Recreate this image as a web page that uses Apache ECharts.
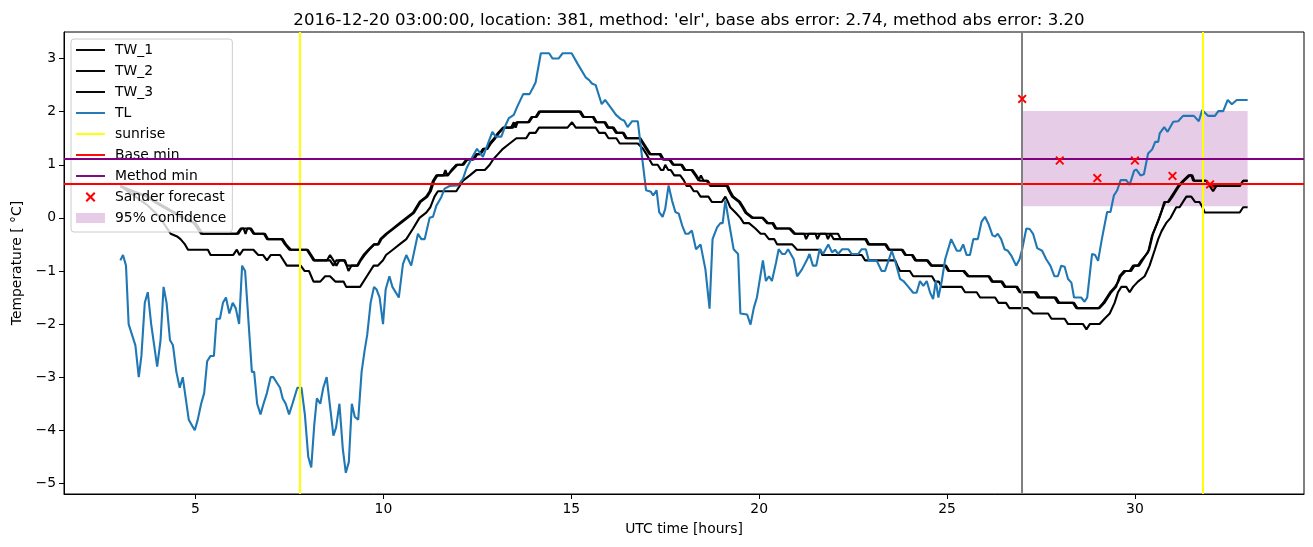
<!DOCTYPE html>
<html><head><meta charset="utf-8">
<script src="https://cdn.jsdelivr.net/npm/echarts@6/dist/echarts.min.js"></script>
<style>html,body{margin:0;padding:0;background:#fff}#c{width:1313px;height:547px}</style>
</head><body><div id="c"></div>
<script>
const titleText = "2016-12-20 03:00:00, location: 381, method: 'elr', base abs error: 2.74, method abs error: 3.20";
const xTicks = [5, 10, 15, 20, 25, 30];
const yTicks = [-5, -4, -3, -2, -1, 0, 1, 2, 3];

const TW_1 = [[3.0,0.6],[3.3,0.5],[3.7,0.4],[3.9,0.3],[4.15,0.2],[4.4,0.1],[4.65,0.0],[4.95,-0.1],[5.05,-0.2],[5.15,-0.3],[6.14,-0.3],[6.23,-0.2],[6.45,-0.2],[6.54,-0.3],[6.82,-0.3],[6.9,-0.4],[7.29,-0.4],[7.38,-0.5],[7.5,-0.6],[7.96,-0.6],[8.05,-0.7],[8.14,-0.8],[8.58,-0.8],[8.67,-0.9],[8.75,-0.8],[8.95,-0.8],[9.03,-0.9],[9.3,-0.9],[9.38,-0.8],[9.47,-0.7],[9.6,-0.6],[9.74,-0.5],[9.85,-0.5],[9.92,-0.4],[10.07,-0.3],[10.25,-0.2],[10.43,-0.1],[10.61,0.0],[10.79,0.1],[10.96,0.3],[11.14,0.4],[11.23,0.5],[11.32,0.7],[11.41,0.8],[11.72,0.8],[11.81,0.9],[11.94,1.0],[12.1,1.0],[12.21,1.1],[12.38,1.1],[12.47,1.2],[12.56,1.2],[12.65,1.3],[12.74,1.3],[12.83,1.4],[12.95,1.5],[13.05,1.6],[13.18,1.7],[13.45,1.7],[13.54,1.8],[13.85,1.8],[13.94,1.9],[14.05,1.9],[14.14,2.0],[15.25,2.0],[15.34,1.9],[15.57,1.9],[15.65,1.8],[15.88,1.8],[15.96,1.7],[16.1,1.7],[16.19,1.6],[16.37,1.6],[16.45,1.5],[16.81,1.5],[16.9,1.4],[16.99,1.3],[17.08,1.2],[17.35,1.2],[17.43,1.1],[17.6,1.1],[17.7,1.0],[17.92,1.0],[18.01,0.9],[18.2,0.9],[18.3,0.8],[18.39,0.7],[18.45,0.8],[18.52,0.7],[18.6,0.7],[18.7,0.6],[19.14,0.6],[19.2,0.5],[19.28,0.4],[19.46,0.3],[19.55,0.2],[19.63,0.1],[19.81,0.0],[20.08,0.0],[20.21,-0.1],[20.35,-0.1],[20.43,-0.2],[20.8,-0.2],[20.93,-0.3],[21.9,-0.3],[21.98,-0.4],[22.82,-0.4],[22.9,-0.5],[23.35,-0.5],[23.44,-0.6],[23.79,-0.6],[23.88,-0.7],[24.06,-0.7],[24.15,-0.8],[24.46,-0.8],[24.57,-0.9],[24.95,-0.9],[25.03,-1.0],[25.43,-1.0],[25.55,-1.1],[26.1,-1.1],[26.19,-1.2],[26.44,-1.2],[26.53,-1.3],[26.84,-1.3],[26.93,-1.4],[27.33,-1.4],[27.42,-1.5],[27.86,-1.5],[27.95,-1.6],[28.35,-1.6],[28.44,-1.7],[29.06,-1.7],[29.19,-1.6],[29.28,-1.5],[29.37,-1.4],[29.5,-1.3],[29.59,-1.1],[29.71,-1.0],[29.86,-1.0],[29.95,-0.9],[30.08,-0.9],[30.17,-0.8],[30.35,-0.65],[30.45,-0.35],[30.62,-0.05],[30.72,0.15],[30.78,0.3],[30.88,0.3],[30.97,0.4],[31.06,0.5],[31.15,0.6],[31.28,0.7],[31.43,0.8],[31.5,0.8],[31.55,0.7],[31.9,0.7],[31.99,0.6],[32.79,0.6],[32.88,0.7],[33.0,0.7]];

const TW_2 = [[3.0,0.6],[3.35,0.5],[3.75,0.4],[3.95,0.3],[4.2,0.2],[4.45,0.1],[4.7,0.0],[5.0,-0.1],[5.1,-0.2],[5.18,-0.3],[6.1,-0.3],[6.2,-0.2],[6.28,-0.2],[6.33,-0.3],[6.38,-0.2],[6.48,-0.2],[6.57,-0.3],[6.85,-0.3],[6.93,-0.4],[7.32,-0.4],[7.41,-0.5],[7.54,-0.6],[7.99,-0.6],[8.08,-0.7],[8.17,-0.8],[8.5,-0.8],[8.58,-0.7],[8.67,-0.8],[8.75,-0.9],[8.83,-0.8],[8.98,-0.8],[9.07,-1.0],[9.15,-0.9],[9.32,-0.9],[9.4,-0.8],[9.5,-0.7],[9.62,-0.6],[9.76,-0.5],[9.87,-0.5],[9.95,-0.4],[10.1,-0.3],[10.28,-0.2],[10.46,-0.1],[10.64,0.0],[10.82,0.1],[10.99,0.3],[11.17,0.4],[11.26,0.5],[11.35,0.7],[11.44,0.8],[11.6,0.8],[11.65,0.9],[11.7,0.8],[11.75,0.8],[11.84,0.9],[11.97,1.0],[12.13,1.0],[12.24,1.1],[12.41,1.1],[12.5,1.2],[12.59,1.2],[12.68,1.3],[12.77,1.3],[12.86,1.4],[12.98,1.5],[13.08,1.6],[13.21,1.7],[13.4,1.7],[13.47,1.8],[13.52,1.7],[13.57,1.8],[13.88,1.8],[13.97,1.9],[14.08,1.9],[14.17,2.0],[15.22,2.0],[15.31,1.9],[15.6,1.9],[15.68,1.8],[15.91,1.8],[15.99,1.7],[16.13,1.7],[16.22,1.6],[16.4,1.6],[16.48,1.5],[16.84,1.5],[16.93,1.4],[17.02,1.3],[17.11,1.2],[17.38,1.2],[17.46,1.1],[17.63,1.1],[17.73,1.0],[17.95,1.0],[18.04,0.9],[18.23,0.9],[18.33,0.8],[18.42,0.7],[18.63,0.7],[18.73,0.6],[19.17,0.6],[19.23,0.5],[19.31,0.4],[19.49,0.3],[19.58,0.2],[19.66,0.1],[19.84,0.0],[20.11,0.0],[20.24,-0.1],[20.38,-0.1],[20.46,-0.2],[20.83,-0.2],[20.96,-0.3],[21.2,-0.3],[21.25,-0.4],[21.32,-0.3],[21.5,-0.3],[21.55,-0.4],[21.62,-0.3],[21.78,-0.3],[21.83,-0.4],[21.9,-0.3],[22.1,-0.3],[22.17,-0.4],[22.85,-0.4],[22.93,-0.5],[23.38,-0.5],[23.47,-0.6],[23.82,-0.6],[23.91,-0.7],[24.09,-0.7],[24.18,-0.8],[24.49,-0.8],[24.6,-0.9],[24.98,-0.9],[25.06,-1.0],[25.46,-1.0],[25.58,-1.1],[26.13,-1.1],[26.22,-1.2],[26.47,-1.2],[26.56,-1.3],[26.87,-1.3],[26.96,-1.4],[27.38,-1.4],[27.47,-1.5],[27.9,-1.5],[27.99,-1.6],[28.38,-1.6],[28.47,-1.7],[29.03,-1.7],[29.16,-1.6],[29.25,-1.5],[29.34,-1.4],[29.47,-1.3],[29.56,-1.2],[29.62,-1.1],[29.75,-1.0],[29.9,-1.0],[29.99,-0.9],[30.11,-0.9],[30.2,-0.8],[30.38,-0.6],[30.48,-0.3],[30.65,0.0],[30.75,0.2],[30.81,0.3],[30.9,0.3],[31.0,0.4],[31.09,0.5],[31.18,0.6],[31.31,0.7],[31.46,0.8],[31.53,0.8],[31.58,0.7],[31.9,0.7],[31.99,0.6],[32.08,0.5],[32.17,0.6],[32.79,0.6],[32.88,0.7],[33.0,0.7]];

const TW_3 = [[3.0,0.6],[3.4,0.4],[3.7,0.25],[4.0,0.05],[4.2,-0.15],[4.34,-0.3],[4.51,-0.35],[4.6,-0.4],[4.72,-0.5],[4.8,-0.6],[5.33,-0.6],[5.4,-0.7],[6.0,-0.7],[6.1,-0.6],[6.17,-0.7],[6.27,-0.6],[6.54,-0.6],[6.67,-0.7],[6.8,-0.7],[6.9,-0.8],[7.0,-0.7],[7.25,-0.7],[7.43,-0.9],[7.8,-0.9],[7.9,-1.0],[8.02,-1.0],[8.14,-1.2],[8.32,-1.2],[8.45,-1.1],[8.58,-1.1],[8.72,-1.2],[8.94,-1.2],[9.01,-1.3],[9.38,-1.3],[9.56,-1.1],[9.74,-0.9],[9.85,-0.9],[9.99,-0.8],[10.07,-0.7],[10.25,-0.6],[10.43,-0.5],[10.61,-0.4],[10.79,-0.2],[10.96,0.0],[11.14,0.1],[11.25,0.2],[11.36,0.4],[11.45,0.5],[11.94,0.5],[12.03,0.6],[12.12,0.7],[12.3,0.8],[12.47,0.9],[12.7,0.9],[12.83,1.0],[12.92,1.1],[13.05,1.2],[13.18,1.3],[13.36,1.4],[13.54,1.5],[13.8,1.5],[13.89,1.6],[14.05,1.6],[14.14,1.7],[14.9,1.7],[15.02,1.8],[15.12,1.7],[15.65,1.7],[15.74,1.6],[15.9,1.6],[15.99,1.5],[16.2,1.5],[16.29,1.4],[16.77,1.4],[16.91,1.3],[17.0,1.2],[17.08,1.1],[17.16,1.0],[17.3,1.0],[17.39,0.9],[17.45,0.9],[17.5,1.0],[17.58,0.9],[17.65,0.9],[17.74,0.8],[17.9,0.8],[18.0,0.7],[18.07,0.6],[18.17,0.6],[18.26,0.5],[18.35,0.5],[18.44,0.4],[18.65,0.4],[18.74,0.3],[19.01,0.3],[19.1,0.4],[19.17,0.3],[19.23,0.2],[19.37,0.1],[19.5,0.0],[19.59,-0.1],[19.73,-0.1],[19.9,-0.2],[20.04,-0.3],[20.15,-0.3],[20.26,-0.4],[20.4,-0.4],[20.48,-0.5],[20.88,-0.5],[21.01,-0.6],[21.63,-0.6],[21.68,-0.7],[22.73,-0.7],[22.82,-0.8],[23.62,-0.8],[23.68,-0.9],[23.75,-1.0],[24.01,-1.0],[24.1,-1.1],[24.6,-1.1],[24.68,-1.2],[24.78,-1.2],[24.86,-1.3],[25.39,-1.3],[25.48,-1.4],[25.79,-1.4],[25.88,-1.5],[26.28,-1.5],[26.37,-1.6],[26.57,-1.6],[26.66,-1.7],[27.15,-1.7],[27.29,-1.8],[27.69,-1.8],[27.78,-1.9],[28.13,-1.9],[28.22,-2.0],[28.62,-2.0],[28.71,-2.1],[28.8,-2.0],[29.06,-2.0],[29.19,-1.9],[29.33,-1.8],[29.46,-1.6],[29.55,-1.4],[29.64,-1.3],[29.77,-1.3],[29.86,-1.4],[29.95,-1.3],[30.08,-1.2],[30.26,-1.1],[30.39,-0.9],[30.53,-0.6],[30.62,-0.4],[30.71,-0.25],[30.83,-0.1],[30.95,0.0],[31.1,0.2],[31.19,0.2],[31.28,0.3],[31.37,0.4],[31.5,0.4],[31.6,0.3],[31.72,0.3],[31.8,0.2],[31.86,0.1],[32.79,0.1],[32.88,0.2],[33.0,0.2]];

const TL = [[3.0,-0.8],[3.07,-0.7],[3.15,-0.9],[3.22,-2.0],[3.4,-2.4],[3.49,-3.0],[3.56,-2.6],[3.65,-1.6],[3.73,-1.4],[3.82,-2.0],[3.98,-2.8],[4.07,-2.3],[4.15,-1.3],[4.23,-1.6],[4.32,-2.3],[4.4,-2.4],[4.49,-2.9],[4.58,-3.2],[4.66,-3.0],[4.82,-3.8],[4.98,-4.0],[5.06,-3.8],[5.15,-3.5],[5.23,-3.3],[5.31,-2.7],[5.4,-2.6],[5.49,-2.6],[5.56,-1.9],[5.65,-1.9],[5.73,-1.6],[5.81,-1.5],[5.9,-1.8],[5.99,-1.6],[6.07,-1.7],[6.16,-2.0],[6.24,-0.9],[6.32,-1.0],[6.5,-2.9],[6.56,-2.9],[6.64,-3.5],[6.73,-3.7],[6.81,-3.5],[6.9,-3.3],[7.0,-3.0],[7.07,-3.0],[7.16,-3.1],[7.25,-3.2],[7.32,-3.4],[7.4,-3.5],[7.49,-3.7],[7.58,-3.5],[7.71,-3.2],[7.82,-3.2],[7.91,-3.7],[8.0,-4.5],[8.08,-4.7],[8.16,-3.9],[8.23,-3.4],[8.32,-3.5],[8.4,-3.2],[8.49,-3.0],[8.58,-3.55],[8.67,-4.1],[8.74,-3.95],[8.83,-3.5],[8.92,-4.35],[9.0,-4.8],[9.08,-4.6],[9.16,-3.5],[9.24,-3.75],[9.33,-3.8],[9.42,-2.9],[9.5,-2.5],[9.57,-2.2],[9.66,-1.6],[9.75,-1.3],[9.82,-1.35],[9.9,-1.5],[9.99,-2.0],[10.06,-1.35],[10.16,-1.1],[10.24,-1.3],[10.41,-1.5],[10.52,-0.87],[10.61,-0.7],[10.74,-0.9],[10.92,-0.3],[11.01,-0.4],[11.1,-0.4],[11.23,0.0],[11.32,0.02],[11.41,0.23],[11.54,0.39],[11.63,0.55],[11.76,0.6],[11.99,0.61],[12.12,0.74],[12.21,0.93],[12.34,1.11],[12.49,1.3],[12.65,1.15],[12.9,1.62],[12.99,1.53],[13.14,1.53],[13.23,1.71],[13.34,1.88],[13.47,1.94],[13.56,2.09],[13.72,2.33],[13.89,2.33],[13.98,2.45],[14.05,2.55],[14.19,3.1],[14.41,3.1],[14.5,3.0],[14.66,3.0],[14.77,3.1],[15.01,3.1],[15.17,2.9],[15.39,2.64],[15.47,2.6],[15.55,2.53],[15.65,2.5],[15.81,2.14],[15.9,2.22],[16.1,2.03],[16.19,1.94],[16.32,1.86],[16.41,1.83],[16.5,1.71],[16.62,1.82],[16.77,1.82],[16.85,1.34],[16.99,0.52],[17.12,0.49],[17.18,0.42],[17.27,0.52],[17.34,0.11],[17.43,0.02],[17.5,0.17],[17.59,0.61],[17.68,0.33],[17.77,0.11],[17.86,0.08],[17.95,-0.14],[18.04,-0.3],[18.12,-0.3],[18.21,-0.24],[18.32,-0.59],[18.44,-0.5],[18.57,-0.97],[18.68,-1.71],[18.76,-0.4],[18.88,-0.18],[18.97,-0.1],[19.03,-0.1],[19.1,0.33],[19.21,-0.14],[19.32,-0.59],[19.44,-0.68],[19.5,-1.8],[19.68,-1.82],[19.77,-2.01],[19.86,-1.69],[19.94,-1.5],[20.1,-0.8],[20.18,-1.19],[20.26,-1.1],[20.34,-1.19],[20.45,-0.84],[20.52,-0.59],[20.61,-0.68],[20.69,-0.68],[20.77,-0.59],[20.92,-0.78],[21.01,-1.1],[21.14,-0.97],[21.28,-0.78],[21.34,-0.68],[21.43,-0.9],[21.52,-0.9],[21.61,-0.59],[21.7,-0.68],[21.84,-0.5],[21.94,-0.65],[22.02,-0.6],[22.1,-0.68],[22.21,-0.59],[22.37,-0.59],[22.46,-0.68],[22.64,-0.68],[22.73,-0.59],[22.84,-0.59],[22.92,-0.81],[23.13,-0.81],[23.26,-1.0],[23.35,-1.0],[23.53,-0.62],[23.63,-0.84],[23.75,-1.15],[23.84,-1.19],[23.95,-1.28],[24.1,-1.41],[24.19,-1.41],[24.28,-1.19],[24.37,-1.28],[24.46,-1.19],[24.55,-1.41],[24.63,-1.53],[24.7,-1.19],[24.77,-1.5],[24.86,-1.19],[24.95,-0.78],[25.11,-0.4],[25.26,-0.62],[25.35,-0.62],[25.43,-0.5],[25.52,-0.7],[25.61,-0.7],[25.7,-0.4],[25.82,-0.4],[25.92,-0.07],[26.01,0.02],[26.1,-0.11],[26.21,-0.33],[26.28,-0.35],[26.35,-0.3],[26.44,-0.4],[26.53,-0.59],[26.62,-0.62],[26.71,-0.71],[26.84,-0.9],[26.93,-0.78],[27.0,-0.59],[27.11,-0.2],[27.2,-0.21],[27.29,-0.3],[27.4,-0.57],[27.53,-0.62],[27.64,-0.78],[27.75,-0.9],[27.86,-1.1],[27.95,-1.1],[28.04,-0.9],[28.13,-0.92],[28.22,-1.15],[28.31,-1.22],[28.38,-1.5],[28.57,-1.5],[28.66,-1.58],[28.73,-1.5],[28.86,-0.68],[28.94,-0.7],[29.02,-0.81],[29.12,-0.4],[29.26,0.11],[29.35,0.11],[29.44,0.42],[29.53,0.52],[29.62,0.71],[29.77,0.71],[29.86,0.62],[29.98,0.89],[30.04,0.91],[30.15,0.8],[30.24,0.82],[30.35,1.21],[30.46,1.29],[30.54,1.43],[30.62,1.43],[30.66,1.59],[30.78,1.71],[30.87,1.62],[31.02,1.81],[31.15,1.82],[31.28,1.92],[31.57,1.92],[31.7,1.82],[31.79,2.03],[31.95,1.92],[32.13,1.92],[32.22,2.01],[32.35,2.01],[32.47,2.22],[32.58,2.14],[32.71,2.22],[33.0,2.22]];

const sunriseTimes = [7.77, 31.81];
const baseMin = 0.64;
const methodMin = 1.12;
const forecastStart = 27;
const sanderX = [27, 28, 29, 30, 31, 32];
const sanderY = [2.24, 1.08, 0.75, 1.08, 0.79, 0.63];
const confX = [27, 33];
const confY = [0.22, 2.01];

const FONT = 'DejaVu Sans';
const linePath = 'path://M0,0L30,0L30,2L0,2Z';
const xPath = 'path://M0,1.5L1.5,0L5,3.5L8.5,0L10,1.5L6.5,5L10,8.5L8.5,10L5,6.5L1.5,10L0,8.5L3.5,5Z';
const minusFmt = v => String(v).replace('-', '\u2212');

function lineSeries(name, data, color) {
  return { name, type: 'line', data, color, symbol: 'none', showSymbol: false,
    lineStyle: { color, width: 2.1 }, itemStyle: { color }, animation: false, silent: true, z: 3 };
}
function markSeries(name, color, markLine, z) {
  return { name, type: 'line', data: [], color, itemStyle: { color }, lineStyle: { color, width: 2 },
    symbol: 'none', animation: false, silent: true, z: z || 4,
    markLine: Object.assign({ silent: true, symbol: ['none', 'none'], label: { show: false },
      animation: false, lineStyle: { color, width: 2, type: 'solid' }, emphasis: { disabled: true } }, markLine) };
}

const option = {
  animation: false,
  backgroundColor: '#fff',
  title: { text: titleText, left: 684, top: 7, textAlign: 'center',
    textStyle: { fontFamily: FONT, fontSize: 16.6, fontWeight: 'normal', color: '#000' } },
  grid: { left: 64, right: 9, top: 32, bottom: 53, show: true, borderColor: '#000', borderWidth: 1, backgroundColor: 'transparent' },
  legend: {
    orient: 'vertical', left: 71, top: 39, padding: [3, 6, 6, 5], itemWidth: 29, itemHeight: 10, itemGap: 5,
    symbolKeepAspect: true, backgroundColor: 'rgba(255,255,255,0.8)', borderColor: '#cccccc', borderWidth: 1, borderRadius: 3,
    textStyle: { fontFamily: FONT, fontSize: 13.9, color: '#000', lineHeight: 16, padding: [0, 0, 0, 5] }, selectedMode: false,
    data: [
      { name: 'TW_1', icon: linePath }, { name: 'TW_2', icon: linePath }, { name: 'TW_3', icon: linePath },
      { name: 'TL', icon: linePath }, { name: 'sunrise', icon: linePath }, { name: 'Base min', icon: linePath },
      { name: 'Method min', icon: linePath }, { name: 'Sander forecast', icon: xPath, itemStyle: { opacity: 1 } },
      { name: '95% confidence', icon: 'rect' }
    ]
  },
  xAxis: {
    type: 'value', min: 1.5, max: 34.5,
    name: 'UTC time [hours]', nameLocation: 'middle', nameGap: 28,
    nameTextStyle: { fontFamily: FONT, fontSize: 13.9, color: '#000' },
    axisLine: { show: true, onZero: false, lineStyle: { color: '#000', width: 1 } },
    axisTick: { show: true, length: 5, customValues: xTicks, lineStyle: { color: '#000', width: 1 } },
    axisLabel: { customValues: xTicks, formatter: minusFmt, fontFamily: FONT, fontSize: 13.9, color: '#000', margin: 8 },
    splitLine: { show: false }
  },
  yAxis: {
    type: 'value', min: -5.2, max: 3.5,
    name: 'Temperature [ °C]', nameLocation: 'middle', nameGap: 40, nameRotate: 90,
    nameTextStyle: { fontFamily: FONT, fontSize: 13.9, color: '#000' },
    axisLine: { show: true, onZero: false, lineStyle: { color: '#000', width: 1 } },
    axisTick: { show: true, length: 5, customValues: yTicks, lineStyle: { color: '#000', width: 1 } },
    axisLabel: { customValues: yTicks, formatter: minusFmt, fontFamily: FONT, fontSize: 13.9, color: '#000', margin: 8 },
    splitLine: { show: false }
  },
  series: [
    {
      name: '95% confidence', type: 'line', data: [], color: 'rgba(128,0,128,0.2)', itemStyle: { color: 'rgba(128,0,128,0.2)' },
      symbol: 'none', animation: false, silent: true, z: 1,
      markArea: { silent: true, animation: false, itemStyle: { color: 'rgba(128,0,128,0.2)' }, label: { show: false },
        data: [[{ xAxis: confX[0], yAxis: confY[0] }, { xAxis: confX[1], yAxis: confY[1] }]] }
    },
    lineSeries('TW_1', TW_1, '#000000'),
    lineSeries('TW_2', TW_2, '#000000'),
    lineSeries('TW_3', TW_3, '#000000'),
    lineSeries('TL', TL, '#1f77b4'),
    markSeries('sunrise', '#ffff00', { data: sunriseTimes.map(v => ({ xAxis: v })) }),
    markSeries('Base min', '#ff0000', { data: [{ yAxis: baseMin }] }),
    markSeries('Method min', '#800080', { data: [{ yAxis: methodMin }] }),
    markSeries('forecast start', '#808080', { data: [{ xAxis: forecastStart }] }),
    {
      name: 'Sander forecast', type: 'scatter', data: sanderX.map((x, i) => [x, sanderY[i]]),
      symbol: xPath, symbolSize: 9, itemStyle: { color: '#ff0000', opacity: 1 }, color: '#ff0000', animation: false, silent: true, z: 5
    }
  ]
};
const chart = echarts.init(document.getElementById('c'), null, { renderer: 'canvas' });
chart.setOption(option);
</script></body></html>
